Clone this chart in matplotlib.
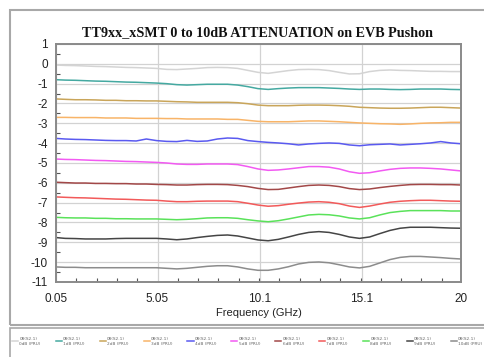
import matplotlib
matplotlib.use("Agg")
import matplotlib.pyplot as plt
from matplotlib.patches import Rectangle
from matplotlib.ticker import FixedLocator, MultipleLocator

plt.rcParams['axes.unicode_minus'] = False

title = "TT9xx_xSMT 0 to 10dB ATTENUATION on EVB Pushon"
xlabel = "Frequency (GHz)"
xtick_pos = [0.05, 5.05, 10.1, 15.1, 20]
xtick_labels = ["0.05", "5.05", "10.1", "15.1", "20"]
ytick_pos = [1, 0, -1, -2, -3, -4, -5, -6, -7, -8, -9, -10, -11]

freq = [0.05, 0.5, 1.0, 1.5, 2.0, 2.5, 3.0, 3.5, 4.0, 4.5, 5.0, 5.5, 6.0, 6.5,
        7.0, 7.5, 8.0, 8.5, 9.0, 9.5, 10.0, 10.5, 11.0, 11.5, 12.0, 12.5, 13.0,
        13.5, 14.0, 14.5, 15.0, 15.5, 16.0, 16.5, 17.0, 17.5, 18.0, 18.5, 19.0,
        19.5, 20.0]

att_0dB = [-0.06, -0.08, -0.09, -0.11, -0.13, -0.14, -0.16, -0.18, -0.19, -0.21,
           -0.23, -0.28, -0.29, -0.26, -0.23, -0.19, -0.18, -0.19, -0.23, -0.33,
           -0.43, -0.48, -0.41, -0.34, -0.29, -0.28, -0.29, -0.34, -0.43, -0.51,
           -0.50, -0.39, -0.33, -0.31, -0.33, -0.34, -0.36, -0.38, -0.38, -0.39, -0.39]
att_1dB = [-0.80, -0.82, -0.83, -0.85, -0.87, -0.88, -0.90, -0.92, -0.93, -0.95,
           -0.97, -1.00, -1.05, -1.07, -1.05, -1.03, -1.03, -1.03, -1.07, -1.15,
           -1.25, -1.29, -1.25, -1.22, -1.20, -1.20, -1.20, -1.22, -1.24, -1.27,
           -1.29, -1.27, -1.27, -1.29, -1.30, -1.29, -1.27, -1.27, -1.27, -1.29, -1.30]
att_2dB = [-1.77, -1.79, -1.81, -1.81, -1.82, -1.84, -1.84, -1.86, -1.86, -1.87,
           -1.87, -1.89, -1.91, -1.92, -1.94, -1.94, -1.94, -1.94, -1.96, -2.01,
           -2.08, -2.11, -2.11, -2.11, -2.09, -2.08, -2.08, -2.09, -2.11, -2.14,
           -2.19, -2.21, -2.23, -2.24, -2.24, -2.23, -2.21, -2.19, -2.19, -2.21, -2.23]
att_3dB = [-2.70, -2.70, -2.71, -2.71, -2.71, -2.73, -2.73, -2.73, -2.75, -2.75,
           -2.75, -2.76, -2.76, -2.78, -2.78, -2.78, -2.78, -2.80, -2.80, -2.85,
           -2.90, -2.92, -2.92, -2.92, -2.90, -2.88, -2.88, -2.90, -2.92, -2.95,
           -2.98, -3.00, -3.02, -3.03, -3.05, -3.03, -3.00, -2.98, -2.97, -2.95, -2.95]
att_4dB = [-3.76, -3.79, -3.81, -3.82, -3.84, -3.86, -3.87, -3.87, -3.89, -3.79,
           -3.87, -3.91, -3.92, -3.86, -3.91, -3.89, -3.79, -3.74, -3.76, -3.87,
           -3.92, -3.96, -3.99, -4.03, -4.09, -4.04, -4.01, -3.99, -4.01, -4.09,
           -4.13, -4.08, -4.06, -4.04, -4.09, -4.06, -4.03, -3.99, -3.92, -3.99, -4.03]
att_5dB = [-4.80, -4.82, -4.83, -4.85, -4.87, -4.88, -4.90, -4.92, -4.93, -4.95,
           -4.97, -5.00, -5.05, -5.07, -5.07, -5.05, -5.05, -5.05, -5.08, -5.18,
           -5.30, -5.37, -5.35, -5.30, -5.24, -5.18, -5.18, -5.21, -5.30, -5.44,
           -5.52, -5.49, -5.40, -5.32, -5.27, -5.25, -5.25, -5.27, -5.30, -5.35, -5.40]
att_6dB = [-5.97, -5.99, -6.01, -6.01, -6.03, -6.03, -6.04, -6.04, -6.06, -6.06,
           -6.08, -6.09, -6.11, -6.11, -6.09, -6.08, -6.08, -6.09, -6.13, -6.19,
           -6.28, -6.34, -6.33, -6.26, -6.19, -6.13, -6.11, -6.13, -6.19, -6.29,
           -6.34, -6.31, -6.24, -6.18, -6.13, -6.09, -6.08, -6.08, -6.09, -6.09, -6.11]
att_7dB = [-6.71, -6.73, -6.75, -6.76, -6.78, -6.80, -6.82, -6.83, -6.85, -6.87,
           -6.88, -6.92, -6.95, -6.95, -6.93, -6.92, -6.92, -6.92, -6.95, -7.03,
           -7.12, -7.18, -7.15, -7.08, -7.02, -6.97, -6.95, -6.98, -7.05, -7.17,
           -7.24, -7.17, -7.07, -6.98, -6.93, -6.90, -6.88, -6.88, -6.90, -6.92, -6.93]
att_8dB = [-7.74, -7.76, -7.77, -7.77, -7.79, -7.79, -7.81, -7.81, -7.82, -7.82,
           -7.82, -7.84, -7.86, -7.84, -7.81, -7.77, -7.76, -7.76, -7.79, -7.86,
           -7.92, -7.96, -7.91, -7.82, -7.72, -7.62, -7.59, -7.61, -7.67, -7.77,
           -7.82, -7.76, -7.62, -7.50, -7.44, -7.40, -7.40, -7.40, -7.40, -7.42, -7.42]
att_9dB = [-8.76, -8.80, -8.81, -8.83, -8.83, -8.83, -8.81, -8.80, -8.80, -8.80,
           -8.80, -8.83, -8.87, -8.83, -8.76, -8.70, -8.65, -8.63, -8.68, -8.78,
           -8.88, -8.92, -8.85, -8.73, -8.60, -8.50, -8.46, -8.50, -8.60, -8.73,
           -8.80, -8.73, -8.56, -8.40, -8.29, -8.24, -8.24, -8.24, -8.26, -8.28, -8.29]
att_10dB = [-10.24, -10.26, -10.26, -10.28, -10.28, -10.28, -10.28, -10.28, -10.28, -10.28,
            -10.28, -10.31, -10.34, -10.31, -10.26, -10.21, -10.18, -10.18, -10.24, -10.34,
            -10.41, -10.41, -10.34, -10.23, -10.09, -10.01, -9.99, -10.03, -10.13, -10.24,
            -10.29, -10.21, -10.04, -9.87, -9.76, -9.71, -9.71, -9.74, -9.77, -9.81, -9.84]

series = [att_0dB, att_1dB, att_2dB, att_3dB, att_4dB, att_5dB,
          att_6dB, att_7dB, att_8dB, att_9dB, att_10dB]
legend_labels = ["08(S2.1)\n0dB (PRU)", "08(S2.1)\n1dB (PRU)", "08(S2.1)\n2dB (PRU)",
                 "08(S2.1)\n3dB (PRU)", "08(S2.1)\n4dB (PRU)", "08(S2.1)\n5dB (PRU)",
                 "08(S2.1)\n6dB (PRU)", "08(S2.1)\n7dB (PRU)", "08(S2.1)\n8dB (PRU)",
                 "08(S2.1)\n9dB (PRU)", "08(S2.1)\n10dB (PRU)"]
colors = ["#d4d4d4", "#45a9a1", "#c9a55a", "#f8b468", "#5a5af0", "#f25af2",
          "#a24848", "#f25a5a", "#5ae25a", "#454545", "#8c8c8c"]

W, H = 485, 357
fig = plt.figure(figsize=(W / 100, H / 100), dpi=100)
fig.patch.set_facecolor("white")

# outer frames
fig.patches.append(Rectangle((10 / W, 1 - 325 / H), 485 / W, 315 / H, transform=fig.transFigure,
                             fill=False, edgecolor="#a8a8a8", linewidth=1.5))
fig.patches.append(Rectangle((10 / W, 1 - 372 / H), 485 / W, 44 / H, transform=fig.transFigure,
                             fill=False, edgecolor="#a8a8a8", linewidth=1.2))

ax = fig.add_axes([56 / W, 1 - 282 / H, 405 / W, 238 / H])
for s, c in zip(series, colors):
    ax.plot(freq, s, color=c, linewidth=1.1)

ax.set_xlim(0.05, 20)
ax.set_ylim(-11, 1)
ax.set_xticks(xtick_pos)
ax.set_xticklabels(xtick_labels)
ax.set_yticks(ytick_pos)
ax.set_yticklabels([str(v) for v in ytick_pos])
ax.xaxis.set_minor_locator(FixedLocator([1.05 + i for i in range(19)]))
ax.yaxis.set_minor_locator(MultipleLocator(0.5))
ax.tick_params(which="both", direction="in", color="#555555", labelsize=8.5,
               labelcolor="#222222")
ax.tick_params(which="major", length=0, pad=6)
ax.tick_params(which="minor", length=3, width=0.8)
ax.tick_params(axis="x", which="major", pad=8)
for t in ax.get_xticklabels() + ax.get_yticklabels():
    t.set_fontfamily("Liberation Sans")

ax.grid(True, which="major", axis="both", color="#d2d2d2", linewidth=0.9)
ax.set_axisbelow(True)
for sp in ax.spines.values():
    sp.set_color("#8a8a8a")
    sp.set_linewidth(1.4)

ax.set_xlabel(xlabel, fontsize=8, fontfamily="Liberation Sans", color="#222222", labelpad=2)
fig.text(257 / W, 1 - 33 / H, title, ha="center", va="center", fontsize=10.2,
         fontweight="bold", fontfamily="Liberation Serif", color="#111111")

handles = ax.get_lines()
leg = fig.legend(handles, legend_labels, loc="center left", ncol=11,
                 bbox_to_anchor=(12 / W, 1 - 343 / H, 470 / W, 0.01), mode="expand",
                 fontsize=3.1, frameon=False, handlelength=1.4, handletextpad=0.3,
                 columnspacing=0.3, borderaxespad=0, borderpad=0)
for t in leg.get_texts():
    t.set_color("#666666")

fig.savefig("out.png", dpi=100)
